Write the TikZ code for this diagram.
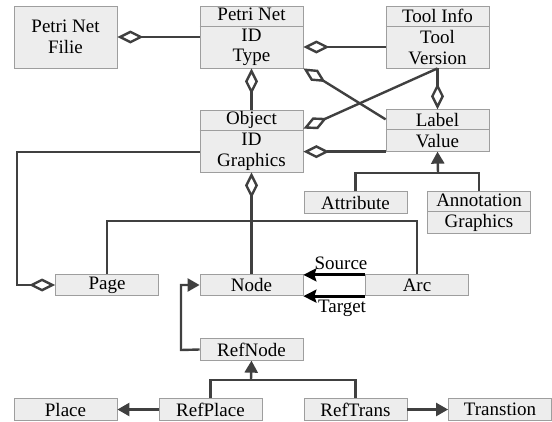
\documentclass[tikz,border=0pt]{standalone}
\usepackage{fontspec}
\setmainfont{Liberation Serif}
\usetikzlibrary{arrows.meta}
\definecolor{boxfill}{gray}{0.93}
\definecolor{boxline}{gray}{0.62}
\definecolor{wire}{gray}{0.25}
\begin{document}
\begin{tikzpicture}[x=1pt,y=-1pt,
  umlbox/.style={draw=boxline, line width=0.8pt, fill=boxfill, minimum width=103pt,
    inner sep=0pt, align=center, font=\fontsize{19}{20.7}\selectfont},
  row1/.style={umlbox, minimum height=21.5pt},
  row2/.style={umlbox, minimum height=41.5pt},
  row3/.style={umlbox, minimum height=62pt},
  sep/.style={draw=boxline, line width=0.8pt},
  wireline/.style={draw=wire, line width=2.4pt},
  agg/.style={wireline, {Diamond[open,length=26pt,width=13pt]}-},
  aggend/.style={wireline, -{Diamond[open,length=26pt,width=13pt]}},
  inh/.style={wireline, -{Triangle[length=12pt,width=13pt]}},
  assoc/.style={draw=black, line width=3pt, -{Stealth[length=13pt,width=13pt,inset=2pt]}},
  lbl/.style={font=\fontsize{19}{20.7}\selectfont, inner sep=0pt}
]
\useasboundingbox (0,0) rectangle (552,421);

% classes
\node[row3] (Filie) at (65.5,37)   {Petri Net\\Filie};
\node[row3] (PN)    at (251.5,37)  {Petri Net\\ID\\Type};
\node[row3] (TI)    at (437.5,37)  {Tool Info\\Tool\\Version};
\node[row3] (Obj)   at (251.5,141) {Object\\ID\\Graphics};
\node[row2] (Lab)   at (437.5,130.5) {Label\\Value};
\node[row1] (Attr)  at (355.5,202.5) {Attribute};
\node[row2] (Ann)   at (479,212.5) {Annotation\\Graphics};
\node[row1] (Page)  at (107,285)   {Page};
\node[row1] (Node)  at (251.5,285) {Node};
\node[row1] (Arc)   at (417,285)   {Arc};
\node[row1] (RefNode)  at (251.5,349.5) {RefNode};
\node[row1] (Place)    at (65.5,409.5)  {Place};
\node[row1] (RefPlace) at (210.5,409.5) {RefPlace};
\node[row1] (RefTrans) at (355.5,409.5) {RefTrans};
\node[row1] (Trans)    at (500,409.5)   {Transtion};

% header separators
\foreach \n in {PN,TI,Obj,Lab,Ann}
  \draw[sep] ([yshift=-20.5pt]\n.north west) -- ([yshift=-20.5pt]\n.north east);

% aggregations
\draw[agg] (Filie.east) -- (PN.west);
\draw[agg] ([yshift=-10pt]PN.east) -- ([yshift=-10pt]TI.west);
\draw[agg] (PN.south) -- (Obj.north);
\draw[agg] (PN.south east) -- ([yshift=-10pt]Lab.north west);
\draw[agg] ([yshift=-19pt]Obj.north east) -- (TI.south);
\draw[aggend] (TI.south) -- (Lab.north);
\draw[agg] (Obj.east |- Lab.south west) -- (Lab.south west);
\draw[agg] (Obj.south) -- (Node.north);
\coordinate (pgturn) at (17,152);
\draw[agg] (Page.west) -| (pgturn) -- (Obj.west |- pgturn);

% page -- arc link
\coordinate (arcbus) at (251,221);
\draw[wireline] (Page.north) |- (arcbus) -| (Arc.north);

% arc source / target
\draw[assoc] ([yshift=-1pt]Arc.north west) -- ([yshift=-1pt]Node.north east);
\draw[assoc] (Arc.south west) -- (Node.south east);
\node[lbl] (src) at (341,263.5) {Source};
\node[lbl] (tgt) at (342,308) {Target};

% label specialisations
\coordinate (lbus) at (438,173);
\draw[wireline] (Attr.north) |- (lbus) -| (Ann.north);
\draw[inh] (lbus) -- (Lab.south);

% reference nodes
\coordinate (rnturn) at (181,350);
\draw[inh] (RefNode.west) -- (rnturn) |- (Node.west);
\coordinate (rbus) at (251,380);
\draw[wireline] (RefPlace.north) |- (rbus) -| (RefTrans.north);
\draw[inh] (rbus) -- (RefNode.south);
\draw[inh] (RefPlace.west) -- (Place.east);
\draw[inh] (RefTrans.east) -- (Trans.west);
\end{tikzpicture}
\end{document}
